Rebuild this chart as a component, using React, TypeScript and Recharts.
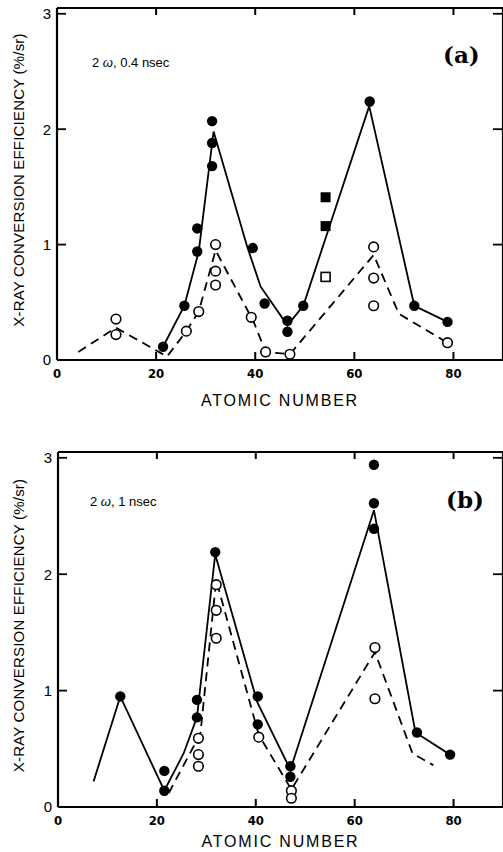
import React from 'react';
import { ComposedChart, XAxis, YAxis, Scatter, Label } from 'recharts';

// ---- data (atomic number x, efficiency %/sr y) ----
const X_TICKS = [0, 20, 40, 60, 80];
const X_TICKS_TOP = [20, 40, 60, 80];
const Y_TICKS = [0, 1, 2, 3];
const Y_TICKS_RIGHT = [1, 2, 3];

const filledA = [
  { x: 21.4, y: 0.115 }, { x: 25.7, y: 0.47 }, { x: 28.3, y: 1.14 }, { x: 28.3, y: 0.94 },
  { x: 31.3, y: 2.07 }, { x: 31.3, y: 1.88 }, { x: 31.3, y: 1.68 }, { x: 39.5, y: 0.97 },
  { x: 41.9, y: 0.49 }, { x: 46.5, y: 0.34 }, { x: 46.5, y: 0.245 }, { x: 49.7, y: 0.47 },
  { x: 63.1, y: 2.24 }, { x: 72.1, y: 0.47 }, { x: 78.8, y: 0.33 },
];
const openA = [
  { x: 11.9, y: 0.355 }, { x: 11.9, y: 0.22 }, { x: 26.1, y: 0.25 }, { x: 28.6, y: 0.42 },
  { x: 32.0, y: 1.0 }, { x: 32.0, y: 0.77 }, { x: 32.0, y: 0.65 }, { x: 39.2, y: 0.37 },
  { x: 42.1, y: 0.07 }, { x: 47.0, y: 0.05 }, { x: 63.9, y: 0.98 }, { x: 63.9, y: 0.71 },
  { x: 63.9, y: 0.47 }, { x: 78.8, y: 0.15 },
];
const filledSqA = [{ x: 54.2, y: 1.41 }, { x: 54.2, y: 1.16 }];
const openSqA = [{ x: 54.2, y: 0.72 }];
const solidA = [
  { x: 21.4, y: 0.115 }, { x: 25.7, y: 0.47 }, { x: 28.6, y: 0.94 }, { x: 31.6, y: 1.98 },
  { x: 38.4, y: 0.98 }, { x: 41.1, y: 0.635 }, { x: 46.5, y: 0.3 }, { x: 49.7, y: 0.47 },
  { x: 63.0, y: 2.2 }, { x: 72.1, y: 0.47 }, { x: 78.8, y: 0.33 },
];
const dashedA = [
  { x: 4.3, y: 0.07 }, { x: 11.9, y: 0.28 }, { x: 22.2, y: 0.03 }, { x: 26.1, y: 0.25 },
  { x: 28.6, y: 0.42 }, { x: 32.0, y: 0.95 }, { x: 39.7, y: 0.33 }, { x: 42.1, y: 0.07 },
  { x: 47.0, y: 0.05 }, { x: 63.9, y: 0.91 }, { x: 69.0, y: 0.4 }, { x: 78.8, y: 0.15 },
];

const filledB = [
  { x: 12.6, y: 0.95 }, { x: 21.5, y: 0.31 }, { x: 21.5, y: 0.14 }, { x: 28.1, y: 0.92 },
  { x: 28.1, y: 0.77 }, { x: 31.8, y: 2.19 }, { x: 40.4, y: 0.95 }, { x: 40.4, y: 0.71 },
  { x: 47.0, y: 0.35 }, { x: 47.0, y: 0.26 }, { x: 63.9, y: 2.94 }, { x: 63.9, y: 2.61 },
  { x: 63.9, y: 2.39 }, { x: 72.6, y: 0.64 }, { x: 79.3, y: 0.45 },
];
const openB = [
  { x: 28.4, y: 0.59 }, { x: 28.4, y: 0.45 }, { x: 28.4, y: 0.35 }, { x: 32.0, y: 1.91 },
  { x: 32.0, y: 1.69 }, { x: 32.0, y: 1.45 }, { x: 40.6, y: 0.6 }, { x: 47.2, y: 0.14 },
  { x: 47.2, y: 0.075 }, { x: 64.1, y: 1.37 }, { x: 64.1, y: 0.93 },
];
const solidB = [
  { x: 7.2, y: 0.22 }, { x: 12.6, y: 0.95 }, { x: 21.5, y: 0.14 }, { x: 25.4, y: 0.46 },
  { x: 28.1, y: 0.77 }, { x: 31.8, y: 2.17 }, { x: 40.3, y: 0.9 }, { x: 47.0, y: 0.32 },
  { x: 63.9, y: 2.55 }, { x: 72.3, y: 0.64 }, { x: 79.3, y: 0.45 },
];
const dashedB = [
  { x: 22.4, y: 0.12 }, { x: 28.8, y: 0.63 }, { x: 32.0, y: 1.95 }, { x: 40.6, y: 0.62 },
  { x: 47.2, y: 0.15 }, { x: 64.1, y: 1.33 }, { x: 71.7, y: 0.46 }, { x: 75.9, y: 0.36 },
];

const X_LABEL = 'ATOMIC NUMBER';
const Y_LABEL = 'X-RAY CONVERSION EFFICIENCY (%/sr)';

// ---- shapes ----
const noShape = () => <g />;
const FilledDot = (p: any) => <circle cx={p.cx} cy={p.cy} r={5.2} fill="#000" />;
const OpenDot = (p: any) => (
  <circle cx={p.cx} cy={p.cy} r={4.8} fill="#fff" stroke="#000" strokeWidth={1.6} />
);
const FilledSq = (p: any) => <rect x={p.cx - 5} y={p.cy - 5} width={10} height={10} fill="#000" />;
const OpenSq = (p: any) => (
  <rect x={p.cx - 4.5} y={p.cy - 4.5} width={9} height={9} fill="#fff" stroke="#000" strokeWidth={1.6} />
);

// ---- ticks (drawn inward) ----
const BottomTick = (p: any) => {
  const v = p.payload.value;
  return (
    <g>
      {v !== 0 && <line x1={p.x} y1={p.y} x2={p.x} y2={p.y - 8} stroke="#000" strokeWidth={2} />}
      <text x={p.x} y={p.y + 18} textAnchor="middle" fontFamily="'DejaVu Sans Condensed', 'DejaVu Sans'" fontWeight="bold" fontSize={13} fill="#000">
        {v}
      </text>
    </g>
  );
};
const TopTick = (p: any) => (
  <line x1={p.x} y1={p.y} x2={p.x} y2={p.y + 7} stroke="#000" strokeWidth={2} />
);
const LeftTick = (p: any) => {
  const v = p.payload.value;
  return (
    <g>
      {v !== 0 && <line x1={p.x} y1={p.y} x2={p.x + 9} y2={p.y} stroke="#000" strokeWidth={1.8} />}
      <text x={p.x - 6} y={p.y} dy="0.36em" textAnchor="end" fontFamily="'Liberation Sans', Arial" fontSize={15} fill="#000">
        {v}
      </text>
    </g>
  );
};
const RightTick = (p: any) => (
  <line x1={p.x} y1={p.y} x2={p.x - 10} y2={p.y} stroke="#000" strokeWidth={1.8} />
);

const axisStroke = { stroke: '#000', strokeWidth: 2.2 };

function Panel(props: any) {
  const { top, height, leftW, bottomH, labelDy, filled, open, filledSq, openSq, solid, dashed } = props;
  return (
    <div style={{ position: 'absolute', left: 0, top, width: 504, height }}>
      <ComposedChart width={504} height={height} margin={{ top: 7, right: 0, bottom: 0, left: 0 }}>
        <XAxis
          dataKey="x" type="number" domain={[0, 90]} ticks={X_TICKS} interval={0}
          height={bottomH} tickSize={0} tickMargin={0} tickLine={false} axisLine={axisStroke}
          tick={BottomTick} allowDataOverflow
          label={
            <Label
              content={(lp: any) => {
                const vb = lp.viewBox;
                return (
                  <text x={vb.x + vb.width / 2} y={vb.y + labelDy} textAnchor="middle"
                    fontFamily="'Liberation Sans', Arial" fontSize={16} letterSpacing={1.8} fill="#000">
                    {X_LABEL}
                  </text>
                );
              }}
            />
          }
        />
        <XAxis
          xAxisId="top" orientation="top" dataKey="x" type="number" domain={[0, 90]} ticks={X_TICKS_TOP} interval={0}
          height={1} tickSize={0} tickMargin={0} tickLine={false} axisLine={axisStroke} tick={TopTick} allowDataOverflow
        />
        <YAxis
          dataKey="y" type="number" domain={[0, 3.05]} ticks={Y_TICKS} interval={0}
          width={leftW} tickSize={0} tickMargin={0} tickLine={false} axisLine={axisStroke}
          tick={LeftTick} allowDataOverflow
          label={
            <Label
              content={(lp: any) => {
                const vb = lp.viewBox;
                const cx = vb.x + 18;
                const cy = vb.y + vb.height / 2 - 4;
                return (
                  <text x={cx} y={cy} transform={`rotate(-90, ${cx}, ${cy})`} textAnchor="middle"
                    dominantBaseline="central" fontFamily="'Liberation Sans', Arial" fontSize={15}
                    letterSpacing={0.2} fill="#000">
                    {Y_LABEL}
                  </text>
                );
              }}
            />
          }
        />
        <YAxis
          yAxisId="right" orientation="right" dataKey="y" type="number" domain={[0, 3.05]} ticks={Y_TICKS_RIGHT} interval={0}
          width={1} tickSize={0} tickMargin={0} tickLine={false} axisLine={axisStroke} tick={RightTick} allowDataOverflow
        />
        {/* invisible series that binds the mirrored top/right axes */}
        <Scatter xAxisId="top" yAxisId="right" data={solid} shape={noShape} isAnimationActive={false} />
        <Scatter data={dashed} line={{ stroke: '#000', strokeWidth: 1.8, strokeDasharray: '9 6' }} lineType="joint" shape={noShape} isAnimationActive={false} />
        <Scatter data={solid} line={{ stroke: '#000', strokeWidth: 1.8 }} lineType="joint" shape={noShape} isAnimationActive={false} />
        <Scatter data={open} shape={OpenDot} isAnimationActive={false} />
        <Scatter data={filled} shape={FilledDot} isAnimationActive={false} />
        {filledSq && <Scatter data={filledSq} shape={FilledSq} isAnimationActive={false} />}
        {openSq && <Scatter data={openSq} shape={OpenSq} isAnimationActive={false} />}
      </ComposedChart>
    </div>
  );
}

const noteStyle: React.CSSProperties = {
  position: 'absolute', fontFamily: "'Liberation Sans', Arial", fontSize: 13, color: '#000',
  lineHeight: '14px', whiteSpace: 'nowrap',
};
const tagStyle: React.CSSProperties = {
  position: 'absolute', fontFamily: "'DejaVu Serif', serif", fontWeight: 'bold', fontSize: 23,
  color: '#000', lineHeight: '26px', whiteSpace: 'nowrap',
};

export default function App() {
  return (
    <div style={{ position: 'absolute', left: 0, top: 0, width: 503, height: 852, background: '#fff', overflow: 'hidden' }}>
      <Panel top={0} height={420} leftW={57} bottomH={60} labelDy={46}
        filled={filledA} open={openA} filledSq={filledSqA} openSq={openSqA} solid={solidA} dashed={dashedA} />
      <Panel top={444} height={408} leftW={58} bottomH={45} labelDy={40}
        filled={filledB} open={openB} solid={solidB} dashed={dashedB} />
      <div style={{ ...noteStyle, left: 92, top: 56 }}>2 <i>ω</i>, 0.4 nsec</div>
      <div style={{ ...tagStyle, left: 443, top: 42 }}>(a)</div>
      <div style={{ ...noteStyle, left: 90, top: 495 }}>2 <i>ω</i>, 1 nsec</div>
      <div style={{ ...tagStyle, left: 446, top: 487 }}>(b)</div>
    </div>
  );
}
